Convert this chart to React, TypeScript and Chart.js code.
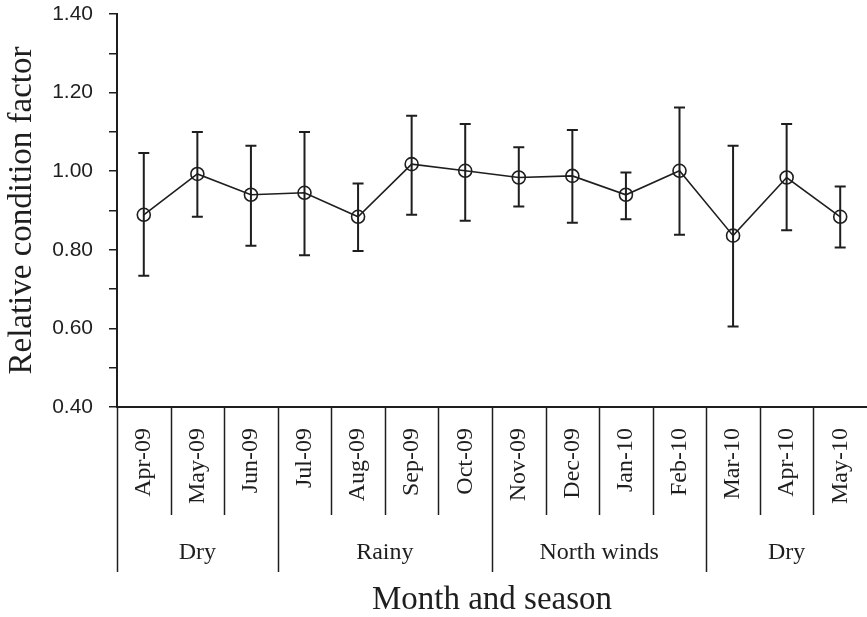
import React, { useEffect, useRef } from "react";
import { Chart, registerables } from "chart.js";

Chart.register(...registerables);

const months = [
  "Apr-09", "May-09", "Jun-09", "Jul-09", "Aug-09", "Sep-09", "Oct-09",
  "Nov-09", "Dec-09", "Jan-10", "Feb-10", "Mar-10", "Apr-10", "May-10",
];
const meanValues = [0.889, 0.993, 0.94, 0.945, 0.884, 1.018, 1.001, 0.984, 0.988, 0.94, 1.001, 0.836, 0.984, 0.884];
const upperValues = [1.046, 1.1, 1.065, 1.1, 0.969, 1.141, 1.12, 1.061, 1.105, 0.997, 1.162, 1.065, 1.12, 0.961];
const lowerValues = [0.734, 0.884, 0.81, 0.786, 0.797, 0.889, 0.874, 0.91, 0.869, 0.878, 0.838, 0.605, 0.85, 0.806];
const seasonNames = ["Dry", "Rainy", "North winds", "Dry"];
const seasonStarts = [0, 3, 7, 11];
const seasonLengths = [3, 4, 4, 3];
const yMin = 0.4;
const yMax = 1.4;
const yStep = 0.1;

const INK = "#1e1e1e";
const SERIF = "'Liberation Serif', 'Times New Roman', serif";
const SANS = "'Liberation Sans', Arial, sans-serif";

const errorBarPlugin = {
  id: "errorBars",
  afterDatasetsDraw(chart: any) {
    const xs = chart.scales.x;
    const ys = chart.scales.y;
    const ctx = chart.ctx;
    ctx.save();
    ctx.strokeStyle = INK;
    ctx.lineWidth = 2;
    for (let i = 0; i < meanValues.length; i++) {
      const px = xs.getPixelForValue(i);
      const top = ys.getPixelForValue(upperValues[i]);
      const bot = ys.getPixelForValue(lowerValues[i]);
      ctx.beginPath();
      ctx.moveTo(px, top);
      ctx.lineTo(px, bot);
      ctx.moveTo(px - 5.5, top);
      ctx.lineTo(px + 5.5, top);
      ctx.moveTo(px - 5.5, bot);
      ctx.lineTo(px + 5.5, bot);
      ctx.stroke();
    }
    ctx.restore();
  },
};

const categoryPlugin = {
  id: "categoryDividers",
  afterDraw(chart: any) {
    const xs = chart.scales.x;
    const area = chart.chartArea;
    const ctx = chart.ctx;
    const half = (xs.getPixelForValue(1) - xs.getPixelForValue(0)) / 2;
    ctx.save();
    ctx.strokeStyle = INK;
    ctx.lineWidth = 1.5;
    for (let i = 0; i < months.length; i++) {
      const bx = Math.round(xs.getPixelForValue(i) - half) + 0.5;
      const isSeason = seasonStarts.includes(i);
      ctx.beginPath();
      ctx.moveTo(bx, area.bottom);
      ctx.lineTo(bx, area.bottom + (isSeason ? 165 : 108));
      ctx.stroke();
    }
    ctx.fillStyle = INK;
    ctx.font = `24px ${SERIF}`;
    ctx.textAlign = "center";
    ctx.textBaseline = "middle";
    seasonNames.forEach((name, k) => {
      const first = seasonStarts[k];
      const last = first + seasonLengths[k] - 1;
      const cx = (xs.getPixelForValue(first) + xs.getPixelForValue(last)) / 2;
      ctx.fillText(name, cx, area.bottom + 146);
    });
    ctx.restore();
  },
};

export default function App() {
  const canvasRef = useRef<HTMLCanvasElement | null>(null);

  useEffect(() => {
    if (!canvasRef.current) return;
    const chart = new Chart(canvasRef.current, {
      type: "line",
      data: {
        labels: months,
        datasets: [
          {
            data: meanValues,
            borderColor: INK,
            borderWidth: 1.6,
            pointStyle: "circle",
            pointRadius: 6.5,
            pointBorderWidth: 1.6,
            pointBorderColor: INK,
            pointBackgroundColor: "rgba(0,0,0,0)",
            tension: 0,
            clip: false,
          },
        ],
      },
      options: {
        animation: false,
        responsive: true,
        maintainAspectRatio: false,
        layout: { autoPadding: false, padding: { top: 14, right: 0, left: 0, bottom: 0 } },
        plugins: { legend: { display: false }, tooltip: { enabled: false } },
        scales: {
          x: {
            type: "category",
            offset: true,
            grid: { display: false, drawTicks: false },
            border: { display: true, color: INK, width: 2 },
            ticks: {
              minRotation: 90,
              maxRotation: 90,
              autoSkip: false,
              padding: 21,
              color: INK,
              font: { family: SERIF, size: 24 },
            },
            title: {
              display: true,
              text: "Month and season",
              color: INK,
              font: { family: SERIF, size: 33, lineHeight: 1 },
              padding: { top: 0, bottom: 0 },
            },
            afterFit: (scale: any) => {
              scale.height = 210;
              scale.paddingLeft = 0;
              scale.paddingRight = 0;
            },
          },
          y: {
            min: yMin,
            max: yMax,
            grid: {
              drawOnChartArea: false,
              drawTicks: true,
              tickLength: 8,
              color: INK,
              lineWidth: 1.5,
            },
            border: { display: true, color: INK, width: 2 },
            ticks: {
              stepSize: yStep,
              padding: 16,
              color: INK,
              font: { family: SANS, size: 21 },
              callback: (v: any) => {
                const n = Math.round(Number(v) * 10);
                return n % 2 === 0 ? (n / 10).toFixed(2) : "";
              },
            },
            title: {
              display: true,
              text: "Relative condition factor",
              color: INK,
              font: { family: SERIF, size: 33, lineHeight: 1 },
              padding: { top: 6, bottom: 0 },
            },
            afterFit: (scale: any) => {
              scale.width = 117;
              scale.paddingTop = 0;
              scale.paddingBottom = 0;
            },
          },
        },
      },
      plugins: [errorBarPlugin, categoryPlugin],
    });
    return () => chart.destroy();
  }, []);

  return (
    <div style={{ position: "fixed", left: 0, top: 0, width: 867, height: 617, background: "#fff" }}>
      <canvas ref={canvasRef} />
    </div>
  );
}
